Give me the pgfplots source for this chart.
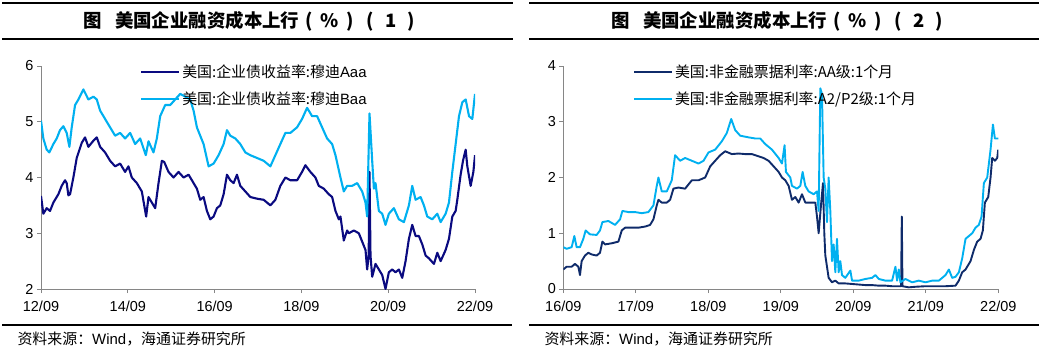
\documentclass[border=0pt]{standalone}
\usepackage{fontspec}
\setmainfont{Liberation Sans}
\newfontfamily\cjk{Noto Sans CJK SC}
\usepackage{pgfplots}
\pgfplotsset{compat=1.18}
\definecolor{navyA}{HTML}{0A0A80}
\definecolor{navyB}{HTML}{0F2B6A}
\definecolor{skyB}{HTML}{00B0F0}
\definecolor{axgray}{HTML}{868686}
\newcommand{\fw}[1]{\makebox[1.1em][c]{#1}}
\pgfplotsset{
  panel/.style={
    scale only axis,
    axis x line*=bottom, axis y line*=left,
    x axis line style={-, axgray, line width=0.9bp},
    y axis line style={-, axgray, line width=0.9bp},
    tick align=outside,
    major tick length=4bp,
    tick style={axgray, line width=0.9bp},
    minor tick num=0,
    /pgf/number format/assume math mode=true,
    ticklabel style={font=\fontsize{14.5}{15}\selectfont, text=black},
    xticklabel style={yshift=-5bp},
    legend style={draw=none, fill=none, inner sep=0pt, row sep=9bp,
      font=\fontsize{15}{15}\selectfont, cells={anchor=west},
      nodes={inner sep=2bp}},
    legend image code/.code={\draw[#1] (0bp,0bp) -- (38bp,0bp);},
  }
}
\begin{document}
\begin{tikzpicture}[x=1bp,y=1bp]
\useasboundingbox (0,0) rectangle (1047,359);
% ---------- left panel frame ----------
\draw[line width=1.2bp] (2,356) -- (513,356);
\draw[line width=1.2bp] (2,320) -- (513,320);
\draw[line width=1.2bp] (2,34) -- (512,34);
\node[anchor=west, inner sep=0pt, font=\fontsize{18.5}{19}\selectfont\cjk\bfseries] at (83,338) {图\hspace{0.73em}美国企业融资成本上行\fw{(}\fw{\%}\fw{)}\fw{(}\fw{1}\fw{)}};
\node[anchor=west, font=\fontsize{15}{15}\selectfont] at (14,20) {{\cjk 资料来源：}Wind{\cjk ，海通证券研究所}};
% ---------- right panel frame ----------
\draw[line width=1.2bp] (529,356) -- (1039,356);
\draw[line width=1.2bp] (529,320) -- (1039,320);
\draw[line width=1.2bp] (529,34) -- (1039,34);
\node[anchor=west, inner sep=0pt, font=\fontsize{18.5}{19}\selectfont\cjk\bfseries] at (611,338) {图\hspace{0.73em}美国企业融资成本上行\fw{(}\fw{\%}\fw{)}\fw{(}\fw{2}\fw{)}};
\node[anchor=west, font=\fontsize{15}{15}\selectfont] at (541,20) {{\cjk 资料来源：}Wind{\cjk ，海通证券研究所}};

\begin{axis}[panel,
  at={(41bp,70bp)}, anchor=south west,
  width=434bp, height=223bp,
  xmin=2012.75, xmax=2022.75, ymin=2, ymax=6,
  xtick={2012.75,2014.75,2016.75,2018.75,2020.75,2022.75},
  xticklabels={12/09,14/09,16/09,18/09,20/09,22/09},
  ytick={2,3,4,5,6},
  legend style={at={(0.228,1.015)}, anchor=north west},
]
\addplot[navyA, line width=2.1bp, line join=round] coordinates {
(2012.750,3.67) (2012.804,3.35) (2012.881,3.45) (2012.958,3.40) (2013.035,3.55) (2013.150,3.70) (2013.227,3.85) (2013.304,3.95) (2013.342,3.90) (2013.381,3.68) (2013.419,3.70) (2013.496,4.00) (2013.573,4.35) (2013.688,4.62) (2013.765,4.72) (2013.842,4.55) (2013.958,4.66) (2014.035,4.72) (2014.112,4.55) (2014.227,4.45) (2014.342,4.30) (2014.458,4.20) (2014.573,4.25) (2014.688,4.10) (2014.765,4.20) (2014.842,4.00) (2014.958,3.90) (2015.073,3.75) (2015.173,3.30) (2015.227,3.65) (2015.304,3.55) (2015.381,3.45) (2015.458,3.90) (2015.535,4.30) (2015.588,4.28) (2015.688,4.10) (2015.804,4.00) (2015.919,4.10) (2016.035,4.00) (2016.150,4.05) (2016.227,3.95) (2016.342,3.80) (2016.419,3.60) (2016.496,3.65) (2016.573,3.40) (2016.650,3.25) (2016.727,3.30) (2016.804,3.45) (2016.881,3.50) (2016.958,3.70) (2017.035,4.05) (2017.112,3.95) (2017.188,3.90) (2017.265,4.05) (2017.342,3.85) (2017.458,3.75) (2017.573,3.65) (2017.727,3.62) (2017.881,3.60) (2018.035,3.50) (2018.150,3.60) (2018.265,3.85) (2018.381,4.00) (2018.496,3.95) (2018.650,3.95) (2018.765,4.10) (2018.842,4.22) (2018.958,4.10) (2019.073,4.00) (2019.150,3.85) (2019.265,3.80) (2019.381,3.70) (2019.458,3.65) (2019.535,3.40) (2019.612,3.25) (2019.650,3.30) (2019.727,2.87) (2019.804,3.05) (2019.842,3.00) (2019.958,3.05) (2020.073,3.00) (2020.150,2.85) (2020.227,2.70) (2020.265,2.35) (2020.300,2.60) (2020.319,4.10) (2020.342,2.60) (2020.381,2.22) (2020.458,2.45) (2020.535,2.35) (2020.612,2.25) (2020.688,2.00) (2020.765,2.30) (2020.842,2.35) (2020.919,2.30) (2020.996,2.35) (2021.073,2.20) (2021.150,2.50) (2021.227,2.90) (2021.304,3.15) (2021.381,2.95) (2021.458,2.95) (2021.535,2.80) (2021.612,2.60) (2021.688,2.55) (2021.804,2.45) (2021.881,2.65) (2021.958,2.50) (2022.073,2.70) (2022.150,2.90) (2022.227,3.30) (2022.304,3.40) (2022.342,3.60) (2022.419,4.05) (2022.473,4.30) (2022.535,4.50) (2022.573,4.20) (2022.650,3.85) (2022.712,4.10) (2022.750,4.40)
};
\addlegendentry{{\cjk 美国:企业债收益率:穆迪}Aaa}
\addplot[skyB, line width=2.1bp, line join=round] coordinates {
(2012.750,5.02) (2012.804,4.70) (2012.881,4.50) (2012.942,4.45) (2013.035,4.60) (2013.112,4.70) (2013.188,4.85) (2013.265,4.92) (2013.342,4.80) (2013.404,4.55) (2013.458,4.90) (2013.535,5.30) (2013.612,5.40) (2013.727,5.58) (2013.842,5.40) (2013.958,5.45) (2014.035,5.40) (2014.112,5.20) (2014.227,5.05) (2014.342,4.90) (2014.458,4.75) (2014.573,4.80) (2014.688,4.70) (2014.804,4.80) (2014.919,4.60) (2015.035,4.70) (2015.165,4.40) (2015.227,4.65) (2015.342,4.45) (2015.419,4.70) (2015.496,5.10) (2015.612,5.30) (2015.727,5.30) (2015.842,5.40) (2015.958,5.50) (2016.073,5.45) (2016.188,5.40) (2016.265,5.20) (2016.342,4.90) (2016.419,4.75) (2016.496,4.60) (2016.612,4.20) (2016.727,4.25) (2016.842,4.40) (2016.958,4.60) (2017.035,4.85) (2017.112,4.75) (2017.227,4.70) (2017.342,4.60) (2017.458,4.45) (2017.573,4.40) (2017.727,4.35) (2017.881,4.30) (2018.035,4.20) (2018.150,4.40) (2018.265,4.60) (2018.381,4.80) (2018.496,4.80) (2018.650,4.90) (2018.765,5.05) (2018.881,5.25) (2018.996,5.10) (2019.112,5.10) (2019.227,4.90) (2019.342,4.70) (2019.458,4.60) (2019.535,4.40) (2019.650,4.00) (2019.727,3.75) (2019.804,3.85) (2019.919,3.85) (2020.035,3.90) (2020.150,3.75) (2020.227,3.55) (2020.265,3.30) (2020.319,5.15) (2020.381,4.30) (2020.420,3.80) (2020.458,3.90) (2020.535,3.40) (2020.612,3.35) (2020.688,3.15) (2020.765,3.35) (2020.881,3.45) (2020.996,3.25) (2021.112,3.20) (2021.227,3.50) (2021.304,3.85) (2021.381,3.60) (2021.496,3.65) (2021.573,3.50) (2021.650,3.30) (2021.765,3.25) (2021.881,3.35) (2021.958,3.20) (2022.073,3.35) (2022.150,3.55) (2022.227,4.10) (2022.304,4.60) (2022.381,5.10) (2022.458,5.35) (2022.535,5.40) (2022.612,5.10) (2022.688,5.05) (2022.750,5.50)
};
\addlegendentry{{\cjk 美国:企业债收益率:穆迪}Baa}
\end{axis}

\begin{axis}[panel,
  at={(563.3bp,70bp)}, anchor=south west,
  width=435bp, height=223bp,
  xmin=2016.75, xmax=2022.75, ymin=0, ymax=4,
  xtick={2016.75,2017.75,2018.75,2019.75,2020.75,2021.75,2022.75},
  xticklabels={16/09,17/09,18/09,19/09,20/09,21/09,22/09},
  ytick={0,1,2,3,4},
  legend style={at={(0.160,1.015)}, anchor=north west},
]
\addplot[navyB, line width=1.9bp, line join=round] coordinates {
(2016.750,0.35) (2016.796,0.40) (2016.865,0.40) (2016.911,0.45) (2016.957,0.40) (2016.980,0.25) (2017.003,0.50) (2017.049,0.60) (2017.095,0.65) (2017.141,0.62) (2017.210,0.60) (2017.256,0.65) (2017.289,0.85) (2017.326,0.80) (2017.418,0.82) (2017.510,0.85) (2017.556,1.05) (2017.602,1.10) (2017.694,1.10) (2017.786,1.10) (2017.878,1.12) (2017.947,1.15) (2017.993,1.25) (2018.039,1.50) (2018.062,1.60) (2018.108,1.55) (2018.177,1.55) (2018.223,1.60) (2018.269,1.80) (2018.338,1.82) (2018.430,1.80) (2018.523,1.95) (2018.615,1.95) (2018.707,2.00) (2018.776,2.20) (2018.845,2.30) (2018.914,2.40) (2018.983,2.47) (2019.075,2.42) (2019.167,2.43) (2019.259,2.42) (2019.351,2.42) (2019.443,2.38) (2019.512,2.35) (2019.581,2.30) (2019.651,2.20) (2019.720,2.10) (2019.766,2.00) (2019.812,1.95) (2019.858,1.85) (2019.904,1.60) (2019.950,1.65) (2019.996,1.55) (2020.042,1.70) (2020.088,1.55) (2020.180,1.55) (2020.226,1.55) (2020.249,1.30) (2020.272,1.00) (2020.304,1.50) (2020.332,1.90) (2020.350,1.00) (2020.364,0.60) (2020.387,0.40) (2020.410,0.20) (2020.456,0.12) (2020.502,0.15) (2020.548,0.10) (2020.640,0.10) (2020.733,0.09) (2020.825,0.08) (2020.917,0.07) (2021.009,0.07) (2021.101,0.06) (2021.193,0.06) (2021.285,0.05) (2021.409,0.05) (2021.419,1.30) (2021.428,0.05) (2021.515,0.03) (2021.607,0.04) (2021.745,0.05) (2021.884,0.05) (2022.022,0.05) (2022.160,0.06) (2022.206,0.15) (2022.252,0.30) (2022.298,0.35) (2022.367,0.50) (2022.413,0.70) (2022.459,0.85) (2022.505,0.90) (2022.537,1.05) (2022.565,1.55) (2022.611,1.65) (2022.643,2.00) (2022.666,2.35) (2022.703,2.30) (2022.735,2.35) (2022.749,2.50)
};
\addlegendentry{\cjk 美国:非金融票据利率:AA级:1个月}
\addplot[skyB, line width=1.9bp, line join=round] coordinates {
(2016.750,0.75) (2016.796,0.72) (2016.865,0.75) (2016.902,0.95) (2016.934,0.75) (2016.980,0.75) (2017.026,0.90) (2017.058,1.05) (2017.118,0.98) (2017.210,0.97) (2017.256,1.05) (2017.289,1.20) (2017.372,1.22) (2017.464,1.15) (2017.533,1.25) (2017.565,1.40) (2017.648,1.38) (2017.740,1.38) (2017.832,1.36) (2017.924,1.38) (2017.993,1.50) (2018.039,1.85) (2018.062,2.00) (2018.108,1.75) (2018.177,1.75) (2018.246,1.95) (2018.292,2.40) (2018.361,2.30) (2018.430,2.35) (2018.523,2.30) (2018.615,2.25) (2018.684,2.30) (2018.753,2.45) (2018.845,2.50) (2018.937,2.65) (2019.006,2.80) (2019.066,3.05) (2019.121,2.85) (2019.190,2.75) (2019.305,2.72) (2019.397,2.70) (2019.466,2.70) (2019.535,2.60) (2019.628,2.50) (2019.720,2.35) (2019.766,2.25) (2019.802,2.58) (2019.821,2.10) (2019.881,2.00) (2019.904,1.85) (2019.973,1.80) (2020.019,1.85) (2020.051,2.10) (2020.088,1.85) (2020.134,1.75) (2020.203,1.70) (2020.249,1.75) (2020.272,1.40) (2020.295,3.60) (2020.318,3.50) (2020.341,2.00) (2020.364,1.80) (2020.387,1.20) (2020.410,2.00) (2020.433,1.40) (2020.456,0.50) (2020.479,0.80) (2020.502,0.30) (2020.525,0.90) (2020.548,0.30) (2020.571,0.50) (2020.594,0.25) (2020.640,0.20) (2020.709,0.33) (2020.733,0.15) (2020.825,0.15) (2020.917,0.18) (2021.009,0.20) (2021.055,0.25) (2021.101,0.18) (2021.193,0.15) (2021.285,0.15) (2021.331,0.40) (2021.354,0.15) (2021.377,0.35) (2021.400,0.12) (2021.469,0.18) (2021.562,0.12) (2021.653,0.15) (2021.745,0.12) (2021.837,0.15) (2021.930,0.15) (2022.022,0.25) (2022.068,0.35) (2022.114,0.20) (2022.160,0.22) (2022.206,0.30) (2022.252,0.55) (2022.298,0.90) (2022.344,0.95) (2022.390,1.00) (2022.436,1.10) (2022.482,1.15) (2022.519,1.30) (2022.551,1.90) (2022.597,2.00) (2022.643,2.50) (2022.676,2.95) (2022.703,2.70) (2022.750,2.70)
};
\addlegendentry{\cjk 美国:非金融票据利率:A2/P2级:1个月}
\end{axis}
\end{tikzpicture}
\end{document}
